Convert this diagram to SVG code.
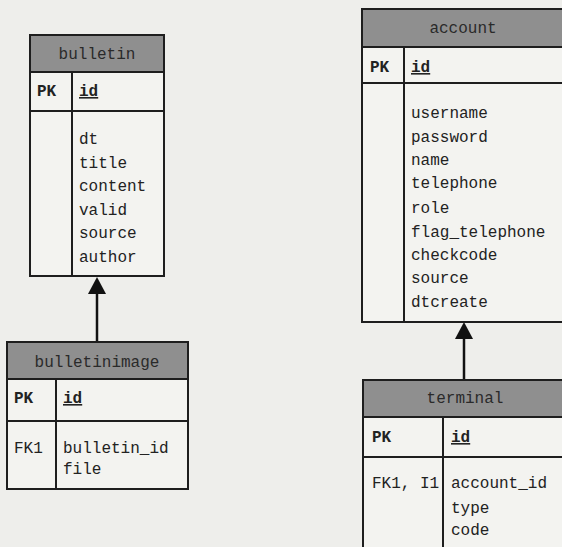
<svg xmlns="http://www.w3.org/2000/svg" width="562" height="547" viewBox="0 0 562 547">
<defs>
<style>
.bg{fill:#eeeeeb}
.box{fill:#f3f3f0;stroke:#1e1e1e;stroke-width:2}
.hdr{fill:#8f8f8f;stroke:#1e1e1e;stroke-width:2}
.ln{stroke:#1e1e1e;stroke-width:2;fill:none}
text{font-family:"Liberation Mono","DejaVu Sans Mono",monospace;font-size:16px;fill:#222}
.t{text-anchor:middle;fill:#2a2a2a}
.k{font-weight:bold}
.u{font-weight:bold;text-decoration:underline}
.conn{stroke:#111;stroke-width:2.5;fill:none}
</style>
<marker id="tri" viewBox="0 0 18 17" refX="9" refY="0" markerWidth="18" markerHeight="17" markerUnits="userSpaceOnUse" orient="auto-start-reverse">
<path d="M9 0 L18 17 L0 17 Z" fill="#111"/>
</marker>
</defs>
<rect class="bg" x="0" y="0" width="562" height="547"/>

<g id="connectors">
<line class="conn" x1="97" y1="342" x2="97" y2="294"/>
<path d="M97 277 L106 294 L88 294 Z" fill="#111"/>
<line class="conn" x1="464" y1="380" x2="464" y2="339"/>
<path d="M464 322 L473 339 L455 339 Z" fill="#111"/>
</g>

<g id="bulletin">
<rect class="box" x="30" y="35" width="134" height="241"/>
<rect class="hdr" x="30" y="35" width="134" height="37"/>
<line class="ln" x1="30" y1="111" x2="164" y2="111"/>
<line class="ln" x1="72" y1="72" x2="72" y2="276"/>
<text class="t" x="97" y="59">bulletin</text>
<text class="k" x="37" y="96">PK</text>
<text class="u" x="79" y="96">id</text>
<text x="79" y="144">dt</text>
<text x="79" y="168">title</text>
<text x="79" y="191">content</text>
<text x="79" y="215">valid</text>
<text x="79" y="238">source</text>
<text x="79" y="262">author</text>
</g>

<g id="bulletinimage">
<rect class="box" x="7" y="342" width="181" height="147"/>
<rect class="hdr" x="7" y="342" width="181" height="37"/>
<line class="ln" x1="7" y1="421" x2="188" y2="421"/>
<line class="ln" x1="56" y1="379" x2="56" y2="489"/>
<text class="t" x="97" y="367">bulletinimage</text>
<text class="k" x="14" y="403">PK</text>
<text class="u" x="63" y="403">id</text>
<text x="14" y="453">FK1</text>
<text x="63" y="453">bulletin_id</text>
<text x="63" y="474">file</text>
</g>

<g id="account">
<rect class="box" x="362" y="9" width="210" height="313"/>
<rect class="hdr" x="362" y="9" width="210" height="38"/>
<line class="ln" x1="362" y1="83" x2="572" y2="83"/>
<line class="ln" x1="404" y1="47" x2="404" y2="322"/>
<text class="t" x="463" y="33">account</text>
<text class="k" x="370" y="72">PK</text>
<text class="u" x="411" y="72">id</text>
<text x="411" y="118">username</text>
<text x="411" y="142">password</text>
<text x="411" y="165">name</text>
<text x="411" y="188">telephone</text>
<text x="411" y="213">role</text>
<text x="411" y="237">flag_telephone</text>
<text x="411" y="260">checkcode</text>
<text x="411" y="283">source</text>
<text x="411" y="307">dtcreate</text>
</g>

<g id="terminal">
<rect class="box" x="363" y="380" width="210" height="180"/>
<rect class="hdr" x="363" y="380" width="210" height="37"/>
<line class="ln" x1="363" y1="457" x2="573" y2="457"/>
<line class="ln" x1="443" y1="417" x2="443" y2="560"/>
<text class="t" x="465" y="403">terminal</text>
<text class="k" x="372" y="442">PK</text>
<text class="u" x="451" y="442">id</text>
<text x="372" y="488">FK1, I1</text>
<text x="451" y="488">account_id</text>
<text x="451" y="513">type</text>
<text x="451" y="535">code</text>
</g>
</svg>
